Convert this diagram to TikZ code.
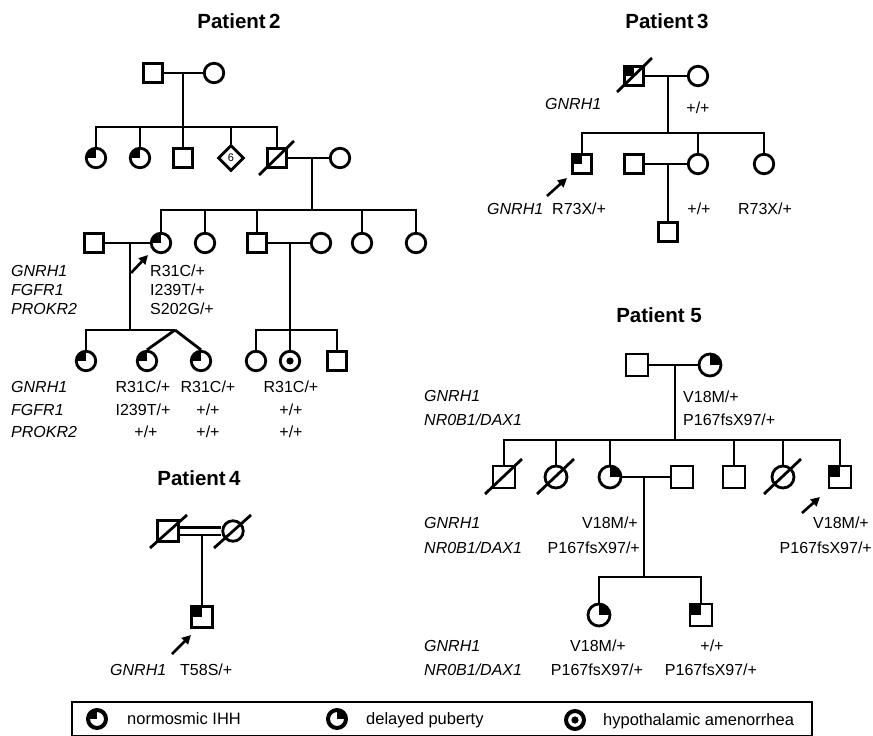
\documentclass[tikz,border=0pt]{standalone}
\usepackage{fontspec}
\setmainfont{Liberation Sans}
\usetikzlibrary{shapes.geometric,arrows.meta}
\tikzset{
  ln/.style={line width=2.8pt},
  thinln/.style={line width=2.1pt},
  sl/.style={line width=2.8pt},
  arr/.style={line width=2.6pt,-{Triangle[length=9pt,width=9pt]}},
  sq/.style={draw,rectangle,line width=2.8pt,minimum size=19.5pt,inner sep=0pt},
  ci/.style={draw,circle,line width=2.8pt,minimum size=19.5pt,inner sep=0pt},
  big/.style={minimum size=22pt},
  dia/.style={draw,diamond,line width=2.8pt,minimum size=26pt,inner sep=0pt,font=\fontsize{11}{11}\selectfont},
  ihh/.style={path picture={\fill (path picture bounding box.north west) rectangle (path picture bounding box.center);}},
  dp/.style={path picture={\fill (path picture bounding box.north east) rectangle (path picture bounding box.center);}},
  dot/.style={path picture={\fill (path picture bounding box.center) circle[radius=3.6pt];}},
  ttl/.style={font=\fontsize{20.5}{24}\selectfont\bfseries,inner sep=0pt,text height=14.7pt,text depth=0pt},
  gl/.style={font=\fontsize{16}{18}\selectfont\itshape,inner sep=0pt,text height=11.5pt,text depth=0pt},
  vl/.style={font=\fontsize{16}{18}\selectfont,inner sep=0pt,text height=11.5pt,text depth=0pt},
  lg/.style={font=\fontsize{16.5}{18}\selectfont,inner sep=0pt,text height=11.8pt,text depth=0pt,anchor=west},
  lsym/.style={draw,circle,line width=4pt,minimum size=18pt,inner sep=0pt},
}
\begin{document}
\begin{tikzpicture}[x=1pt,y=-1pt]
\useasboundingbox (0,0) rectangle (873,736);

% ================= Patient 2 =================
\node[ttl] (t2) at (239,21) {Patient\,2};
% generation I
\node[sq] (p2a) at (153,73) {};
\node[ci] (p2b) at (214,73) {};
\draw[ln] (p2a.east) -- (p2b.west);
\coordinate (m1) at (183,73);
\coordinate (s1) at (183,127);
\draw[ln] (m1) -- (s1);
% generation II
\node[ci,ihh] (p2c) at (96,158) {};
\node[ci,ihh] (p2d) at (140,158) {};
\node[sq] (p2e) at (183,158) {};
\node[dia] (p2f) at (231,158) {6};
\node[sq] (p2g) at (277,158) {};
\node[ci] (p2h) at (340,158) {};
\draw[ln] (p2c.north) |- (s1) -| (p2g.north);
\draw[ln] (p2d.north) -- (p2d.north |- s1);
\draw[ln] (p2e.north) -- (s1);
\draw[ln] (p2f.north) -- (p2f.north |- s1);
\draw[sl] ([shift={(-18,17)}]p2g.center) -- ([shift={(17,-17)}]p2g.center);
\draw[ln] (p2g.east) -- (p2h.west);
\coordinate (m2) at (312,158);
\coordinate (s2) at (312,210);
\draw[ln] (m2) -- (s2);
% generation III
\node[sq] (p2j) at (94,243) {};
\node[ci,ihh] (p2k) at (161,243) {};
\node[ci] (p2l) at (205,243) {};
\node[sq] (p2m) at (257,243) {};
\node[ci] (p2n) at (321,243) {};
\node[ci] (p2o) at (362,243) {};
\node[ci] (p2p) at (416,243) {};
\draw[ln] (p2k.north) |- (s2) -| (p2p.north);
\draw[ln] (p2l.north) -- (p2l.north |- s2);
\draw[ln] (p2m.north) -- (p2m.north |- s2);
\draw[ln] (p2o.north) -- (p2o.north |- s2);
\draw[ln] (p2j.east) -- (p2k.west);
\draw[ln] (p2m.east) -- (p2n.west);
\coordinate (m3) at (130,243);
\coordinate (s3) at (130,330);
\coordinate (tw) at (175,330);
\draw[ln] (m3) -- (s3);
\coordinate (m4) at (290,243);
\coordinate (s4) at (290,330);
\draw[ln] (m4) -- (s4);
% generation IV
\node[ci,ihh] (p2q) at (86,361) {};
\node[ci,ihh] (p2r) at (147,361) {};
\node[ci,ihh] (p2s) at (201,361) {};
\node[ci] (p2t) at (256,361) {};
\node[ci,dot] (p2u) at (290,361) {};
\node[sq] (p2v) at (337,361) {};
\draw[ln] (p2q.north) |- (tw);
\draw[ln] (tw) -- (p2r.north);
\draw[ln] (tw) -- (p2s.north);
\draw[ln] (p2t.north) |- (s4) -| (p2v.north);
\draw[ln] (p2u.north) -- (s4);
% proband arrow
\coordinate (a2) at (131,273);
\draw[arr] (a2) -- ([shift={(-13,12)}]p2k.center);
% labels
\node[gl,anchor=west] (g2a) at (11,271) {GNRH1};
\node[gl,anchor=west] (g2b) at (11,290) {FGFR1};
\node[gl,anchor=west] (g2c) at (11,309) {PROKR2};
\node[vl,anchor=west] (v2a) at (150,271) {R31C/+};
\node[vl,anchor=west] (v2b) at (150,290) {I239T/+};
\node[vl,anchor=west] (v2c) at (150,309) {S202G/+};
\node[gl,anchor=west] (g2d) at (11,387) {GNRH1};
\node[gl,anchor=west] (g2e) at (11,410) {FGFR1};
\node[gl,anchor=west] (g2f) at (11,432) {PROKR2};
\node[vl] (v2d) at (143,387) {R31C/+};
\node[vl] (v2e) at (143,410) {I239T/+};
\node[vl] (v2f) at (146,432) {+/+};
\node[vl] (v2g) at (208,387) {R31C/+};
\node[vl] (v2h) at (208,410) {+/+};
\node[vl] (v2i) at (208,432) {+/+};
\node[vl] (v2j) at (291,387) {R31C/+};
\node[vl] (v2k) at (291,410) {+/+};
\node[vl] (v2l) at (291,432) {+/+};

% ================= Patient 3 =================
\node[ttl] (t3) at (667,21) {Patient\,3};
\node[sq,ihh] (p3a) at (634,76) {};
\node[ci] (p3b) at (698,76) {};
\draw[sl] ([shift={(-17,16)}]p3a.center) -- ([shift={(18,-18)}]p3a.center);
\draw[ln] (p3a.east) -- (p3b.west);
\coordinate (m5) at (668,76);
\coordinate (s5) at (668,133);
\draw[ln] (m5) -- (s5);
\node[sq,ihh] (p3c) at (582,164) {};
\node[sq] (p3d) at (634,164) {};
\node[ci] (p3e) at (698,164) {};
\node[ci] (p3f) at (764,164) {};
\draw[ln] (p3c.north) |- (s5) -| (p3f.north);
\draw[ln] (p3e.north) -- (p3e.north |- s5);
\draw[ln] (p3d.east) -- (p3e.west);
\coordinate (m6) at (668,164);
\node[sq] (p3g) at (668,232) {};
\draw[ln] (m6) -- (p3g.north);
\coordinate (a3) at (547,196);
\draw[arr] (a3) -- ([shift={(-15,14)}]p3c.center);
\node[gl,anchor=west] (g3a) at (545,104) {GNRH1};
\node[vl] (v3a) at (698,108) {+/+};
\node[gl,anchor=west] (g3b) at (487,209) {GNRH1};
\node[vl,anchor=west] (v3b) at (552,209) {R73X/+};
\node[vl] (v3c) at (699,209) {+/+};
\node[vl] (v3d) at (765,209) {R73X/+};

% ================= Patient 4 =================
\node[ttl] (t4) at (199,478) {Patient\,4};
\node[sq,minimum size=20.5pt] (p4a) at (168,531) {};
\node[ci,minimum size=20.5pt] (p4b) at (233,531) {};
\draw[sl] ([shift={(-18,17)}]p4a.center) -- ([shift={(19,-16)}]p4a.center);
\draw[sl] ([shift={(-19,17)}]p4b.center) -- ([shift={(18,-16)}]p4b.center);
\coordinate (d1) at (0,527.5);
\coordinate (d2) at (0,535);
\draw[thinln] (p4a.east |- d1) -- (p4b.west |- d1);
\draw[thinln] (p4a.east |- d2) -- (p4b.west |- d2);
\coordinate (m9) at (202,535);
\node[sq,ihh,minimum size=20.5pt] (p4c) at (202,617) {};
\draw[line width=1.8pt] (m9) -- (p4c.north);
\coordinate (a4) at (172,654);
\draw[arr] (a4) -- ([shift={(-11,18)}]p4c.center);
\node[gl,anchor=west] (g4a) at (110,670) {GNRH1};
\node[vl,anchor=west] (v4a) at (180,670) {T58S/+};

% ================= Patient 5 =================
\node[ttl] (t5) at (659,315) {Patient 5};
\node[sq,big] (p5a) at (637,365) {};
\node[ci,big,dp] (p5b) at (710,365) {};
\draw[ln] (p5a.east) -- (p5b.west);
\coordinate (m7) at (675,365);
\coordinate (s7) at (675,440);
\draw[ln] (m7) -- (s7);
\node[sq,big] (p5c) at (504,477) {};
\node[ci,big] (p5d) at (556,477) {};
\node[ci,big,dp] (p5e) at (610,477) {};
\node[sq,big] (p5f) at (682,477) {};
\node[sq,big] (p5g) at (734,477) {};
\node[ci,big] (p5h) at (783,477) {};
\node[sq,big,ihh] (p5i) at (840,477) {};
\draw[ln] (p5c.north) |- (s7) -| (p5i.north);
\draw[ln] (p5d.north) -- (p5d.north |- s7);
\draw[ln] (p5e.north) -- (p5e.north |- s7);
\draw[ln] (p5g.north) -- (p5g.north |- s7);
\draw[ln] (p5h.north) -- (p5h.north |- s7);
\draw[sl] ([shift={(-19,17)}]p5c.center) -- ([shift={(18,-18)}]p5c.center);
\draw[sl] ([shift={(-19,17)}]p5d.center) -- ([shift={(18,-18)}]p5d.center);
\draw[sl] ([shift={(-19,17)}]p5h.center) -- ([shift={(18,-18)}]p5h.center);
\draw[ln] (p5e.east) -- (p5f.west);
\coordinate (m8) at (644,477);
\coordinate (s8) at (644,577);
\draw[ln] (m8) -- (s8);
\node[ci,big,dp] (p5j) at (599,615) {};
\node[sq,big,ihh] (p5k) at (701,615) {};
\draw[ln] (p5j.north) |- (s8) -| (p5k.north);
\coordinate (a5) at (802,513);
\draw[arr] (a5) -- ([shift={(-20,20)}]p5i.center);
\node[gl,anchor=west] (g5a) at (424,396) {GNRH1};
\node[gl,anchor=west] (g5b) at (424,420) {NR0B1/DAX1};
\node[vl,anchor=west] (v5a) at (683,397) {V18M/+};
\node[vl,anchor=west] (v5b) at (683,420) {P167fsX97/+};
\node[gl,anchor=west] (g5c) at (424,523) {GNRH1};
\node[gl,anchor=west] (g5d) at (424,548) {NR0B1/DAX1};
\node[vl,anchor=east] (v5c) at (638,523) {V18M/+};
\node[vl,anchor=east] (v5d) at (640,548) {P167fsX97/+};
\node[vl,anchor=east] (v5e) at (869,523) {V18M/+};
\node[vl,anchor=east] (v5f) at (872,548) {P167fsX97/+};
\node[gl,anchor=west] (g5e) at (424,646) {GNRH1};
\node[gl,anchor=west] (g5f) at (424,670) {NR0B1/DAX1};
\node[vl] (v5g) at (598,646) {V18M/+};
\node[vl] (v5h) at (597,670) {P167fsX97/+};
\node[vl] (v5i) at (712,646) {+/+};
\node[vl] (v5j) at (711,670) {P167fsX97/+};

% ================= Legend =================
\node[draw,line width=1.3pt,minimum width=740pt,minimum height=33.5pt,inner sep=0pt] (leg) at (442,718.75) {};
\node[lsym,ihh] (ls1) at (97,719) {};
\node[lg] (lt1) at (127,719) {normosmic IHH};
\node[lsym,dp] (ls2) at (337,719) {};
\node[lg] (lt2) at (366,719) {delayed puberty};
\node[lsym,dot] (ls3) at (575,720) {};
\node[lg] (lt3) at (603,720) {hypothalamic amenorrhea};
\end{tikzpicture}
\end{document}
